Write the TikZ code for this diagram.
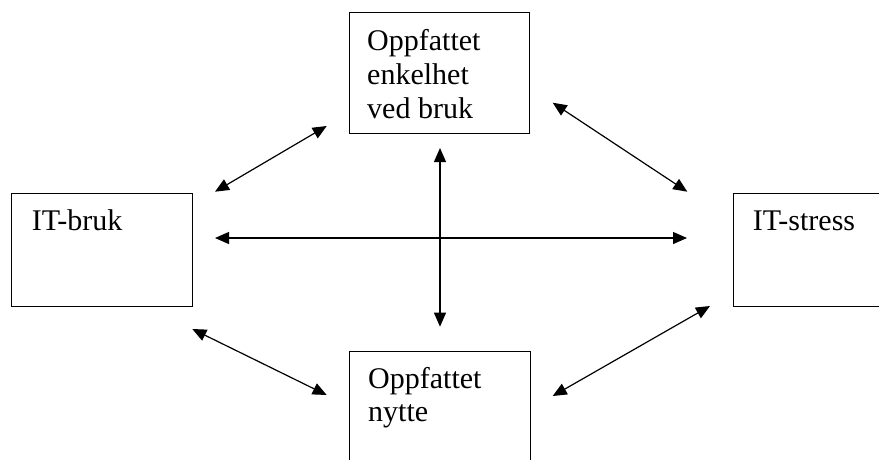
\documentclass[tikz,border=0pt]{standalone}
\usepackage{fontspec}
\setmainfont{Liberation Serif}
\usetikzlibrary{arrows.meta}
\begin{document}
\begin{tikzpicture}[x=1pt,y=-1pt,
  box/.style={draw, line width=1pt, inner sep=0pt, anchor=north west},
  lbl/.style={anchor=base west, inner sep=0pt, font=\fontsize{30}{34}\selectfont},
  link/.style={line width=1.2pt, {Triangle[length=14pt,width=12pt]}-{Triangle[length=14pt,width=12pt]}}]
\useasboundingbox (0,0) rectangle (879,459);
\clip (0,0) rectangle (879,459);
% boxes
\node[box, minimum width=180pt, minimum height=121pt] (top) at (349,12) {};
\node[box, minimum width=181pt, minimum height=113pt] (left) at (11,192.7) {};
\node[box, minimum width=160pt, minimum height=113pt] (right) at (733,192.7) {};
\node[box, minimum width=181pt, minimum height=130pt] (bottom) at (349,351) {};
% texts
\node[lbl] (t1) at (367,50) {Oppfattet};
\node[lbl] (t2) at (367,84) {enkelhet};
\node[lbl] (t3) at (367,118) {ved bruk};
\node[lbl] (l1) at (31.7,230.7) {IT-bruk};
\node[lbl] (r1) at (752.7,230.7) {IT-stress};
\node[lbl] (b1) at (368,388) {Oppfattet};
\node[lbl] (b2) at (368,421) {nytte};
% arrow end points
\coordinate (tlA) at (215,191.7);  \coordinate (tlB) at (326.7,126);
\coordinate (trA) at (552.7,102.7); \coordinate (trB) at (687.3,191.7);
\coordinate (blA) at (192.3,329);  \coordinate (blB) at (326.7,395);
\coordinate (brA) at (552.7,396);  \coordinate (brB) at (710,306);
\coordinate (vA) at (440,148);     \coordinate (vB) at (440,326.7);
\coordinate (hA) at (215,238);     \coordinate (hB) at (687,238);
\draw[link] (tlA) -- (tlB);
\draw[link] (trA) -- (trB);
\draw[link] (blA) -- (blB);
\draw[link] (brA) -- (brB);
\draw[link] (vA) -- (vB);
\draw[link] (hA) -- (hB);
\end{tikzpicture}
\end{document}
